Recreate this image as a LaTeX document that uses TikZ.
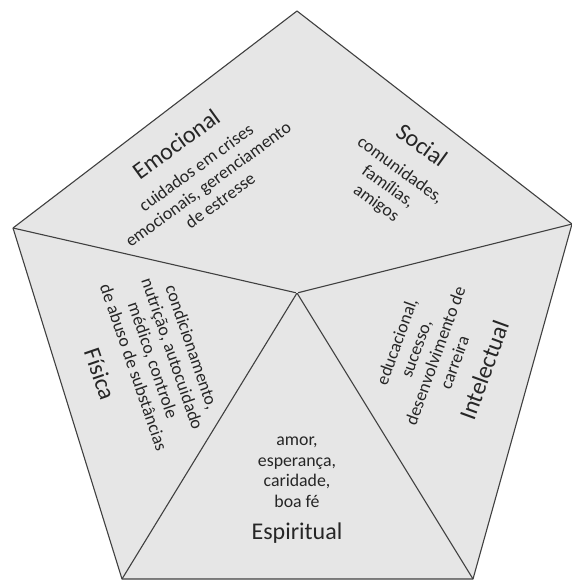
\documentclass[tikz,border=0pt]{standalone}
\usepackage{fontspec}
\setmainfont{Carlito}
\definecolor{pfill}{HTML}{E6E6E6}
\definecolor{pline}{HTML}{404040}
\definecolor{ptext}{HTML}{262626}
\begin{document}
\begin{tikzpicture}[x=1pt,y=-1pt,
  edge/.style={draw=pline,line width=1.1pt,line join=round},
  divider/.style={draw=pline,line width=0.7pt,double=pfill,double distance=1.2pt},
  title/.style={inner sep=0pt,text=ptext,font=\fontsize{24}{28}\selectfont},
  body/.style={inner sep=0pt,text=ptext,align=center,font=\fontsize{17.8}{20.5}\selectfont}]
\useasboundingbox[fill=white] (0,0) rectangle (571,580);
\coordinate (T) at (297,11);
\coordinate (R) at (572,224);
\coordinate (BR) at (473,579);
\coordinate (BL) at (122,579);
\coordinate (L) at (13,228);
\coordinate (C) at (297,293);
\fill[pfill] (T) -- (R) -- (BR) -- (BL) -- (L) -- cycle;
\draw[edge] (L) -- (C) -- (R);
\draw[edge] (BL) -- (C) -- (BR);
\draw[divider] (T) -- (C);
\draw[edge] (T) -- (R) -- (BR) -- (BL) -- (L) -- cycle;
% Emocional
\node[title,rotate=36] (emot) at (176,144) {Emocional};
\node[body,rotate=36] (emob) at (208,184) {cuidados em crises\\emocionais, gerenciamento\\de estresse};
% Social
\node[title,rotate=-36] (soct) at (422,145) {Social};
\node[body,rotate=-36] (socb) at (388,187) {comunidades,\\famílias,\\amigos};
% Física
\node[title,rotate=-71] (fist) at (100,374) {Física};
\node[body,rotate=-71] (fisb) at (163,357) {condicionamento,\\nutrição, autocuidado\\médico, controle\\de abuso de substâncias};
% Intelectual
\node[title,rotate=70] (intt) at (484,370) {Intelectual};
\node[body,rotate=70] (intb) at (425.5,352) {educacional,\\sucesso,\\desenvolvimento de\\carreira};
% Espiritual
\node[title] (espt) at (297,533) {Espiritual};
\node[body] (espb) at (297,472) {amor,\\esperança,\\caridade,\\boa fé};
\end{tikzpicture}
\end{document}
